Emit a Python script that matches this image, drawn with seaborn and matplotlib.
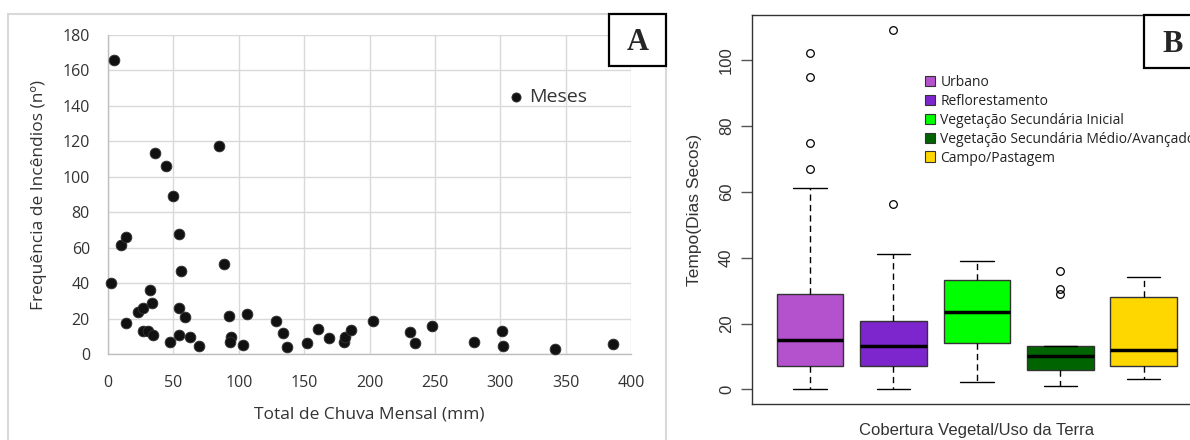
import numpy as np
import pandas as pd
import seaborn as sns
import matplotlib.pyplot as plt
from matplotlib.patches import Rectangle, Patch

# Panel A: monthly rainfall vs number of fires
chuva_mm = [4.6, 35.7, 44.4, 50, 84.6, 2.3, 10.2, 14, 54.3, 55.8, 88.5,
            13.8, 23.2, 26.8, 32.4, 33.9, 26.5, 30.4, 34.7, 47.7, 54.3, 58.9,
            54.3, 62.7, 69.3, 92.8, 94.3, 93.3, 103.5, 106.5, 128.2, 133.6,
            136.6, 152.2, 160.3, 169, 180.8, 181.5, 186, 202.4, 230.7, 234.5,
            247.5, 280.2, 301.3, 302.1, 342.1, 386.5]
incendios = [165.7, 113.6, 105.9, 89, 117.6, 39.9, 61.7, 65.8, 67.7, 46.8, 51,
             17.7, 23.9, 25.8, 36.1, 28.6, 12.8, 12.8, 10.7, 6.8, 25.8, 20.7,
             10.7, 9.8, 4.7, 21.4, 9.8, 6.8, 4.8, 22.5, 18.6, 11.7,
             3.8, 6, 13.9, 8.8, 6.6, 9.8, 13.7, 18.8, 12.6, 6,
             15.8, 6.8, 12.8, 4.7, 2.8, 5.6]

# Panel B: boxplot summaries (dry days per land cover)
classes = ['Urbano', 'Reflorestamento', 'Vegetação Secundária Inicial',
           'Vegetação Secundária Médio/Avançado', 'Campo/Pastagem']
whis_lo = [0, 0, 2.1, 1.1, 3.1]
q1 = [7.2, 7.2, 14.2, 5.9, 7.2]
mediana = [15.0, 13.2, 23.5, 10.0, 12.1]
q3 = [29.1, 20.9, 33.2, 13.1, 28.2]
whis_hi = [61.1, 41.0, 39.1, 13.1, 34.1]
outliers = [[102.2, 94.9, 74.9, 67.0], [109.1, 56.2], [], [36.0, 30.6, 29.1], []]
cores = ['#B452CD', '#7D26CD', '#00FF00', '#006400', '#FFD700']

sns.set_theme(style='white')
plt.rcParams['font.family'] = ['Open Sans', 'DejaVu Sans']

fig = plt.figure(figsize=(11.9, 4.4), dpi=100)
W, H = 1190, 440

def fx(px):
    return px / W

def fy(py):
    return 1 - py / H

# ---------- panel A ----------
fig.patches.append(Rectangle((fx(8), fy(445)), fx(666) - fx(8), fy(14) - fy(445),
                             transform=fig.transFigure, fill=False,
                             edgecolor='#D9D9D9', lw=1.5))

axA = fig.add_axes([fx(108), fy(354), fx(631) - fx(108), fy(35) - fy(354)])
df = pd.DataFrame({'chuva': chuva_mm, 'incendios': incendios})
sns.scatterplot(data=df, x='chuva', y='incendios', ax=axA, s=60,
                color='#111111', edgecolor='#333333', linewidth=0.6,
                clip_on=False, zorder=3, label='Meses')
axA.set_xlim(0, 400)
axA.set_ylim(0, 180)
axA.set_xticks(range(0, 401, 50))
axA.set_yticks(range(0, 181, 20))
axA.grid(True, color='#D9D9D9', lw=1)
axA.set_axisbelow(True)
for s in ['top', 'right']:
    axA.spines[s].set_visible(False)
for s in ['left', 'bottom']:
    axA.spines[s].set_color('#BFBFBF')
    axA.spines[s].set_linewidth(1)
axA.tick_params(axis='both', length=5, width=1, color='#BFBFBF',
                labelsize=11.5, labelcolor='#333333', direction='out')
axA.tick_params(axis='x', pad=10)
axA.tick_params(axis='y', pad=8)
axA.set_xlabel('Total de Chuva Mensal (mm)', fontsize=12.5, color='#333333', labelpad=11)
axA.set_ylabel('Frequência de Incêndios (nº)', fontsize=12.5, color='#333333', labelpad=11)
axA.legend(loc='center left', bbox_to_anchor=(fx(506), fy(97)),
           bbox_transform=fig.transFigure, frameon=False, fontsize=14,
           handlelength=1.0, handletextpad=0.2, borderpad=0, borderaxespad=0,
           markerscale=0.85, labelcolor='#333333')

fig.patches.append(Rectangle((fx(609), fy(66)), fx(666) - fx(609), fy(14) - fy(66),
                             transform=fig.transFigure, facecolor='white',
                             edgecolor='black', lw=1.6, zorder=5))
fig.text(fx(638), fy(42), 'A', family='Liberation Serif', weight='bold',
         fontsize=22, ha='center', va='center', zorder=6)

# ---------- panel B ----------
ylo, yhi = -4.45, 113.7
axB = fig.add_axes([fx(752), fy(404), fx(1202) - fx(752), fy(15) - fy(404)])
stats = []
for i, c in enumerate(classes):
    stats.append({'label': c, 'whislo': whis_lo[i], 'q1': q1[i], 'med': mediana[i],
                  'q3': q3[i], 'whishi': whis_hi[i], 'fliers': outliers[i]})
bp = axB.bxp(stats, positions=range(1, 6), widths=0.8, capwidths=0.4,
             patch_artist=True,
             boxprops=dict(edgecolor='#333333', lw=1),
             medianprops=dict(color='black', lw=2.5, solid_capstyle='butt'),
             whiskerprops=dict(color='black', lw=1, linestyle=(0, (4.5, 3))),
             capprops=dict(color='black', lw=1),
             flierprops=dict(marker='o', markerfacecolor='none',
                             markeredgecolor='black', markersize=5.5, mew=0.9))
for patch, c in zip(bp['boxes'], cores):
    patch.set_facecolor(c)
axB.set_xlim(0.303, 5.70)
axB.set_ylim(ylo, yhi)
axB.set_xticks([])
axB.set_yticks(range(0, 101, 20))
axB.set_yticklabels([str(v) for v in range(0, 101, 20)], rotation=90,
                    va='center', family='Liberation Sans', fontsize=12,
                    color='#333333')
axB.tick_params(axis='y', length=8, width=1, color='#555555', pad=5, left=True)
for s in axB.spines.values():
    s.set_color('#333333')
    s.set_linewidth(1)
axB.set_ylabel('Tempo(Dias Secos)', family='Liberation Sans', fontsize=12.5,
               color='#333333', labelpad=12)
axB.set_xlabel('Cobertura Vegetal/Uso da Terra', family='Liberation Sans',
               fontsize=12, color='#333333', labelpad=14)

handles = [Patch(facecolor=c, edgecolor='#333333', lw=0.8) for c in cores]
axB.legend(handles, classes, loc='upper left', bbox_to_anchor=(fx(925), fy(75)),
           bbox_transform=fig.transFigure, frameon=False, fontsize=10,
           handlelength=0.75, handleheight=0.8, handletextpad=0.35,
           labelspacing=0.28, borderpad=0, borderaxespad=0,
           labelcolor='#222222')

fig.patches.append(Rectangle((fx(1144), fy(68)), fx(1195) - fx(1144), fy(15) - fy(68),
                             transform=fig.transFigure, facecolor='white',
                             edgecolor='black', lw=1.6, zorder=5))
fig.text(fx(1173), fy(44), 'B', family='Liberation Serif', weight='bold',
         fontsize=22, ha='center', va='center', zorder=6)

fig.savefig('out.png', dpi=100)
